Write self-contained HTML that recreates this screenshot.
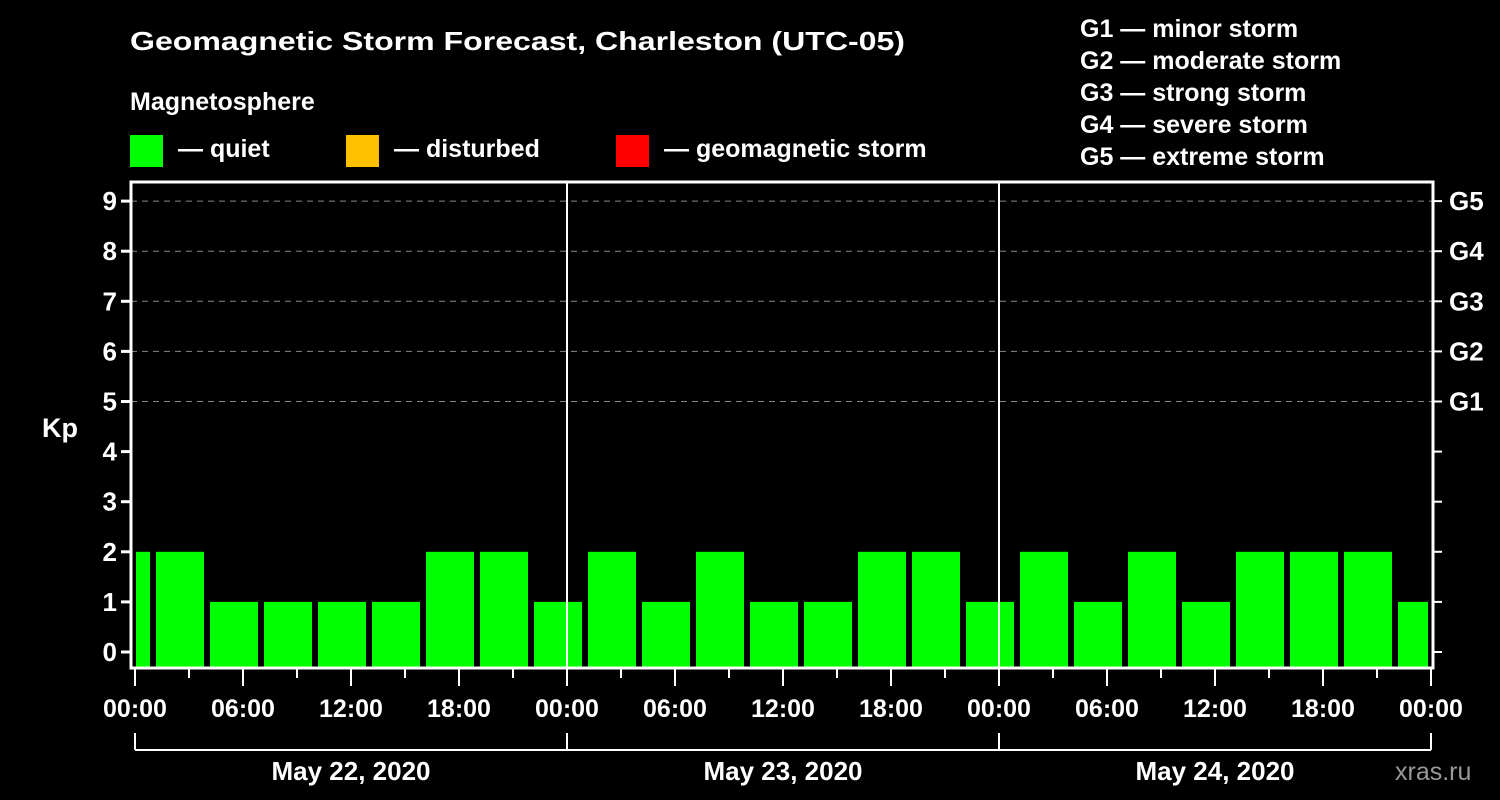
<!DOCTYPE html>
<html><head><meta charset="utf-8"><style>
html,body{margin:0;padding:0;background:#000;}
svg{display:block;font-family:"Liberation Sans",sans-serif;font-weight:bold;}
</style></head><body>
<svg id="chart" width="1500" height="800" xmlns="http://www.w3.org/2000/svg">
<rect width="1500" height="800" fill="#000"/>
<text x="130" y="50" fill="#fff" font-size="26" textLength="775" lengthAdjust="spacingAndGlyphs">Geomagnetic Storm Forecast, Charleston (UTC-05)</text>
<text x="130" y="110" fill="#fff" font-size="25">Magnetosphere</text>
<g><rect x="130" y="135" width="33" height="32" fill="#00ff00"/><text x="178" y="157" fill="#fff" font-size="25">— quiet</text></g>
<g><rect x="346" y="135" width="33" height="32" fill="#ffc000"/><text x="394" y="157" fill="#fff" font-size="25">— disturbed</text></g>
<g><rect x="616" y="135" width="33" height="32" fill="#ff0000"/><text x="664" y="157" fill="#fff" font-size="25">— geomagnetic storm</text></g>
<g fill="#fff" font-size="25">
<text x="1080" y="37">G1 — minor storm</text>
<text x="1080" y="69">G2 — moderate storm</text>
<text x="1080" y="101">G3 — strong storm</text>
<text x="1080" y="133">G4 — severe storm</text>
<text x="1080" y="165">G5 — extreme storm</text>
</g>
<text x="42" y="437" fill="#fff" font-size="27">Kp</text>
<g id="grid"></g>
<g id="bars"></g>
<g id="axes"></g>
<text x="1395" y="780" fill="#999" font-size="25" font-weight="normal">xras.ru</text>
</svg>
<script>
const kpValues = [2,2,1,1,1,1,2,2,1,2,1,2,1,1,2,2,1,2,1,2,1,2,2,2,1];
const binStartHour = -2;
const kpTicks = [0,1,2,3,4,5,6,7,8,9];
const gLabels = ["G1","G2","G3","G4","G5"];
const timeLabels = ["00:00","06:00","12:00","18:00","00:00","06:00","12:00","18:00","00:00","06:00","12:00","18:00","00:00"];
const dateLabels = ["May 22, 2020","May 23, 2020","May 24, 2020"];

const NS="http://www.w3.org/2000/svg";
const X0=135,PXH=18,LEFT=131,RIGHT=1433,TOP=182,BOT=668;
const xs=h=>X0+h*PXH;
const ys=v=>652-50.1*v;
function mk(tag,attrs,parent){const e=document.createElementNS(NS,tag);for(const k in attrs)e.setAttribute(k,attrs[k]);parent.appendChild(e);return e;}
const grid=document.getElementById('grid'),bars=document.getElementById('bars'),axes=document.getElementById('axes');

for(let v=5;v<=9;v++){
  const l=mk('line',{x1:LEFT,x2:RIGHT,y1:ys(v),y2:ys(v),stroke:'#888','stroke-dasharray':'6,5','stroke-width':1},grid);
  
  
}
kpValues.forEach((v,i)=>{
  let a=xs(binStartHour+i*3)+3,b=xs(binStartHour+i*3+3)-3;
  a=Math.max(a,LEFT+5);b=Math.min(b,RIGHT-5);
  if(b<=a)return;
  const r=mk('rect',{x:a,y:ys(v),width:b-a,height:BOT-ys(v),fill:v>=5?'#ff0000':(v>=4?'#ffc000':'#00ff00')},bars);
  
  
});
for(let d=1;d<3;d++){
  const l=mk('line',{x1:xs(d*24),x2:xs(d*24),y1:TOP,y2:BOT,stroke:'#fff','stroke-width':2},axes);
  
  
}
const frame=mk('rect',{x:LEFT,y:TOP,width:RIGHT-LEFT,height:BOT-TOP,fill:'none',stroke:'#fff','stroke-width':3},axes);


kpTicks.forEach(v=>{
  mk('line',{x1:LEFT-10,x2:LEFT,y1:ys(v),y2:ys(v),stroke:'#fff','stroke-width':3},axes);
  mk('line',{x1:RIGHT,x2:RIGHT+9,y1:ys(v),y2:ys(v),stroke:'#fff','stroke-width':2},axes);
  const t=mk('text',{x:117,y:ys(v)+9,fill:'#fff','font-size':26,'text-anchor':'end'},axes);
  t.textContent=v;
  
  
});
gLabels.forEach((g,i)=>{
  const t=mk('text',{x:1449,y:ys(5+i)+9,fill:'#fff','font-size':26},axes);
  t.textContent=g;
  
  
});
for(let h=0;h<=72;h+=3){
  const major=h%6===0;
  mk('line',{x1:xs(h),x2:xs(h),y1:BOT,y2:major?686:678,stroke:'#fff','stroke-width':2},axes);
}
timeLabels.forEach((s,i)=>{
  const t=mk('text',{x:xs(i*6),y:717,fill:'#fff','font-size':25,'text-anchor':'middle'},axes);
  t.textContent=s;
  
  
});
mk('line',{x1:xs(0),x2:xs(72),y1:750,y2:750,stroke:'#fff','stroke-width':2},axes);
for(let d=0;d<=3;d++)mk('line',{x1:xs(d*24),x2:xs(d*24),y1:733,y2:750,stroke:'#fff','stroke-width':2},axes);
dateLabels.forEach((s,i)=>{
  const t=mk('text',{x:xs(i*24+12),y:780,fill:'#fff','font-size':26,'text-anchor':'middle'},axes);
  t.textContent=s;
  
  
});
</script>
</body></html>
